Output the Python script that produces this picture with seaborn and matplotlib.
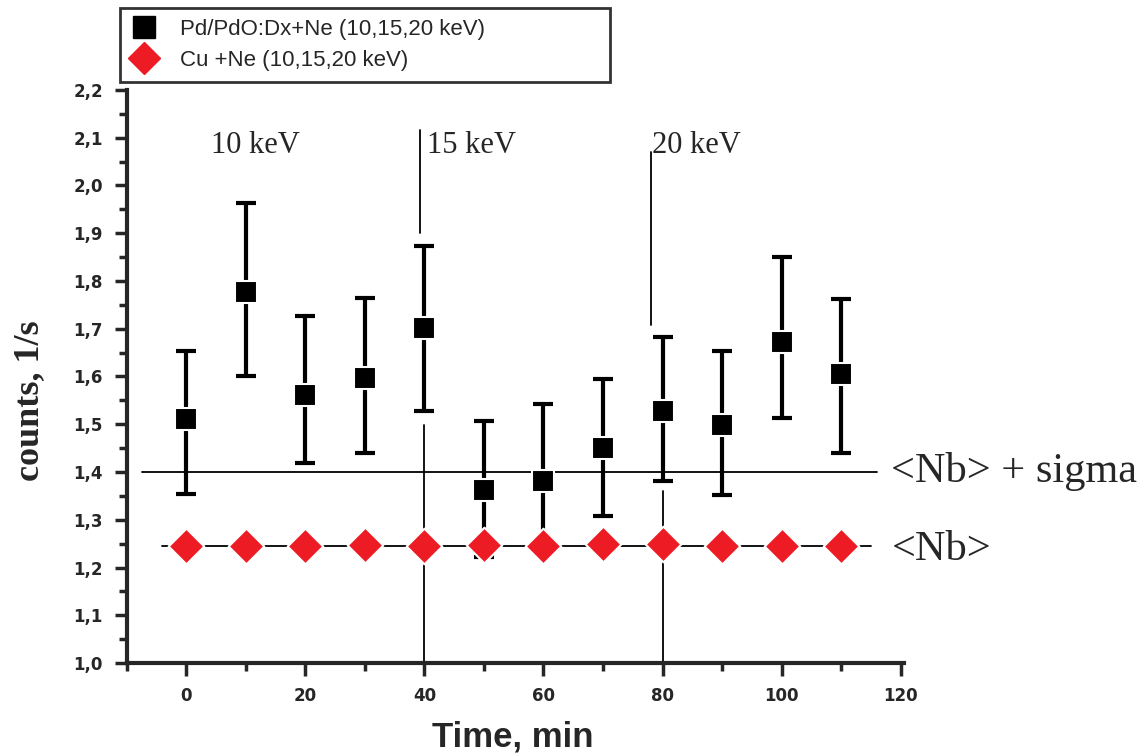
import numpy as np
import pandas as pd
import matplotlib
matplotlib.use("Agg")
import matplotlib.pyplot as plt
import seaborn as sns
from matplotlib.lines import Line2D
from matplotlib.ticker import MultipleLocator, FuncFormatter

# ---- data ----
time_min = [0, 10, 20, 30, 40, 50, 60, 70, 80, 90, 100, 110]
pd_counts = [1.511, 1.777, 1.561, 1.597, 1.702, 1.362, 1.381, 1.450, 1.528, 1.498, 1.672, 1.605]
pd_err_up = [0.142, 0.186, 0.166, 0.167, 0.171, 0.145, 0.161, 0.145, 0.155, 0.155, 0.178, 0.157]
pd_err_dn = [0.157, 0.176, 0.142, 0.157, 0.174, 0.140, 0.140, 0.142, 0.147, 0.146, 0.159, 0.165]
cu_counts = [1.245, 1.245, 1.245, 1.247, 1.245, 1.247, 1.245, 1.250, 1.249, 1.245, 1.245, 1.245]
nb_level = 1.245
nb_sigma_level = 1.40
energy_labels = ["10 keV", "15 keV", "20 keV"]
legend_labels = ["Pd/PdO:Dx+Ne (10,15,20 keV)", "Cu +Ne (10,15,20 keV)"]

df_pd = pd.DataFrame({"t": time_min, "c": pd_counts})
df_cu = pd.DataFrame({"t": time_min, "c": cu_counts})

sns.set_style("ticks")
plt.rcParams['font.family'] = ['DejaVu Sans']

W, H = 1141, 756
fig = plt.figure(figsize=(W / 100, H / 100), dpi=100)
ax = fig.add_axes([0.111, 0.123, 0.681, 0.758])

RED = "#ED1C24"

# reference lines
ax.plot([-7.5, 116], [nb_sigma_level] * 2, color="black", lw=1.3, zorder=1)
ax.plot([-4, 115], [nb_level] * 2, color="black", lw=1.3, zorder=1)
# vertical energy markers
ax.plot([39.3, 39.3], [2.116, 1.90], color="black", lw=1.3, zorder=1)
ax.plot([39.9, 39.9], [1.498, 1.0], color="black", lw=1.3, zorder=1)
ax.plot([78.1, 78.1], [2.07, 1.708], color="black", lw=1.3, zorder=1)
ax.plot([80.1, 80.1], [1.36, 1.0], color="black", lw=1.3, zorder=1)

# error bars
ax.errorbar(time_min, pd_counts, yerr=[pd_err_dn, pd_err_up], fmt="none",
            ecolor="black", elinewidth=3, capsize=7, capthick=3, zorder=2)

sns.scatterplot(data=df_pd, x="t", y="c", marker="s", s=260, color="black",
                edgecolor="white", linewidth=1.5, ax=ax, zorder=3, legend=False)
sns.scatterplot(data=df_cu, x="t", y="c", marker="D", s=330, color=RED,
                edgecolor="white", linewidth=1.5, ax=ax, zorder=3, legend=False)

ax.set_xlim(-10, 120.5)
ax.set_ylim(1.0, 2.2)
ax.xaxis.set_major_locator(MultipleLocator(20))
ax.xaxis.set_minor_locator(MultipleLocator(10))
ax.yaxis.set_major_locator(MultipleLocator(0.1))
ax.yaxis.set_minor_locator(MultipleLocator(0.05))
ax.yaxis.set_major_formatter(FuncFormatter(lambda v, p: f"{v:.1f}".replace(".", ",")))
ax.tick_params(which="major", length=9, width=2.5, labelsize=12, direction="out", pad=8)
ax.tick_params(which="minor", length=6, width=2.5, direction="out")
for lab in ax.get_xticklabels() + ax.get_yticklabels():
    lab.set_fontweight("bold")
sns.despine(ax=ax)
for s in ["left", "bottom"]:
    ax.spines[s].set_linewidth(3)

ax.set_xlabel("")
ax.set_ylabel("")
fig.text(513 / W, 1 - 737 / H, "Time, min", fontsize=25, fontweight="bold",
         family="Liberation Sans", ha="center", va="center")
fig.text(30 / W, 1 - 401 / H, "counts, 1/s", fontsize=26, fontweight="bold",
         family="Liberation Serif", ha="center", va="center", rotation=90)

serif = "Liberation Serif"
ax.text(4.2, 2.083, energy_labels[0], fontsize=22, family=serif, va="center", ha="left")
ax.text(40.4, 2.083, energy_labels[1], fontsize=22, family=serif, va="center", ha="left")
ax.text(78.2, 2.083, energy_labels[2], fontsize=22, family=serif, va="center", ha="left")
ax.text(118.3, nb_sigma_level, "<Nb> + sigma", fontsize=30.5, family=serif, va="center", ha="left", clip_on=False)
ax.text(118.6, 1.238, "<Nb>", fontsize=30.5, family=serif, va="center", ha="left", clip_on=False)

handles = [
    Line2D([], [], marker="s", color="black", linestyle="none", markersize=16),
    Line2D([], [], marker="D", color=RED, linestyle="none", markersize=16),
]
leg = fig.legend(handles, legend_labels, loc="upper left", mode="expand",
                 bbox_to_anchor=(120 / W, 1 - 80 / H, 490 / W, 72 / H), borderaxespad=0,
                 frameon=True, prop={"family": "Liberation Sans", "size": 16},
                 handlelength=1.2, handletextpad=1.0,
                 borderpad=0.5, labelspacing=0.45, fancybox=False)
leg.get_frame().set_edgecolor("black")
leg.get_frame().set_linewidth(2)
fig.savefig("out.png", dpi=100)
